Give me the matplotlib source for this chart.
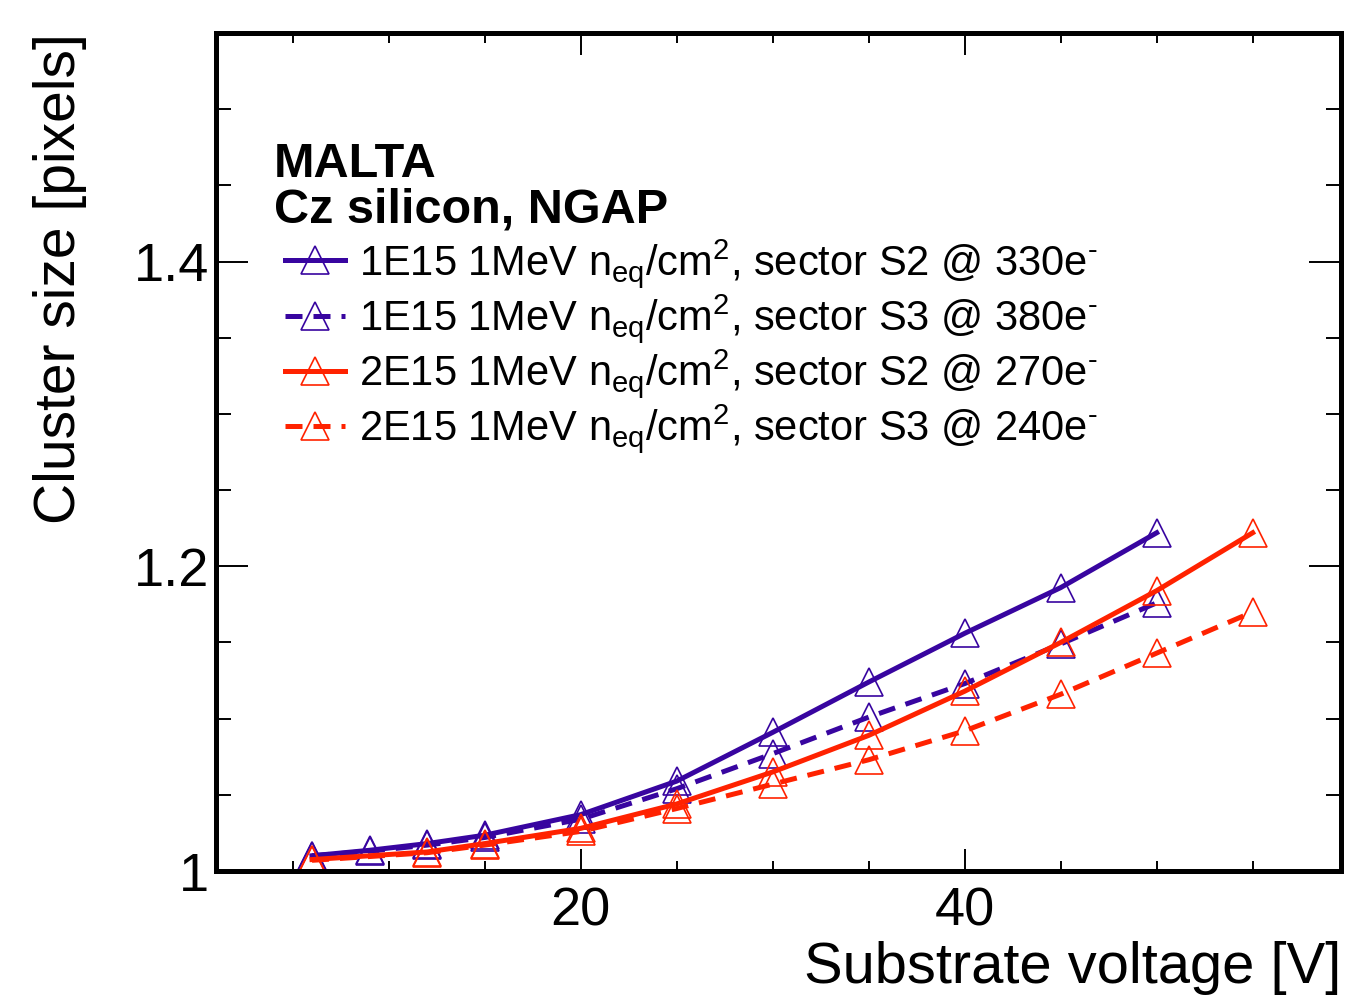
import matplotlib
matplotlib.use("Agg")
import matplotlib.pyplot as plt
from matplotlib.ticker import MultipleLocator, FuncFormatter

plt.rcParams['font.family'] = ['Liberation Sans', 'DejaVu Sans']
plt.rcParams['mathtext.fontset'] = 'custom'
plt.rcParams['mathtext.rm'] = 'Liberation Sans'
plt.rcParams['mathtext.it'] = 'Liberation Sans'
plt.rcParams['mathtext.bf'] = 'Liberation Sans:bold'

# data
volt_1e15 = [6, 9, 12, 15, 20, 25, 30, 35, 40, 45, 50]
cs_1e15_s2 = [1.010, 1.0136, 1.018, 1.0235, 1.037, 1.059, 1.091, 1.124, 1.156, 1.186, 1.222]
cs_1e15_s3 = [1.010, 1.013, 1.017, 1.022, 1.034, 1.054, 1.077, 1.101, 1.123, 1.149, 1.176]

volt_2e15 = [6, 12, 15, 20, 25, 30, 35, 40, 45, 50, 55]
cs_2e15_s2 = [1.0075, 1.0125, 1.018, 1.028, 1.044, 1.065, 1.089, 1.118, 1.150, 1.184, 1.222]
cs_2e15_s3 = [1.007, 1.012, 1.017, 1.026, 1.041, 1.057, 1.073, 1.092, 1.116, 1.143, 1.170]

labels = [r'1E15 1MeV n$_{\rm eq}$/cm$^{2}$, sector S2 @ 330e$^{\text{-}}$',
          r'1E15 1MeV n$_{\rm eq}$/cm$^{2}$, sector S3 @ 380e$^{\text{-}}$',
          r'2E15 1MeV n$_{\rm eq}$/cm$^{2}$, sector S2 @ 270e$^{\text{-}}$',
          r'2E15 1MeV n$_{\rm eq}$/cm$^{2}$, sector S3 @ 240e$^{\text{-}}$']

blue = '#3805a0'
red = '#ff2200'
dash = (0, (3.4, 2.2))

fig = plt.figure(figsize=(13.45, 9.96), dpi=100)
ax = fig.add_axes([216/1345, 1-871/996, (1341-216)/1345, (871-33)/996])

series = [(volt_1e15, cs_1e15_s2, blue, '-'),
          (volt_1e15, cs_1e15_s3, blue, dash),
          (volt_2e15, cs_2e15_s2, red, '-'),
          (volt_2e15, cs_2e15_s3, red, dash)]
handles = []
for (x, y, c, ls), lab in zip(series, labels):
    h, = ax.plot(x, y, color=c, ls=ls, lw=3.6, marker='^', ms=20, mfc='none',
                 mec=c, mew=1.2, dash_capstyle='butt', label=lab)
    handles.append(h)

ax.set_xlim(1, 59.6)
ax.set_ylim(1, 1.55)

for s in ax.spines.values():
    s.set_linewidth(3.6)

ax.xaxis.set_major_locator(MultipleLocator(20))
ax.xaxis.set_minor_locator(MultipleLocator(5))
ax.yaxis.set_major_locator(MultipleLocator(0.2))
ax.yaxis.set_minor_locator(MultipleLocator(0.05))
ax.yaxis.set_major_formatter(FuncFormatter(lambda v, p: '%g' % v))
ax.tick_params(which='both', direction='in', top=True, right=True, width=1.4, labelsize=39)
ax.tick_params(axis='x', which='major', length=16, pad=11)
ax.tick_params(axis='x', which='minor', length=7)
ax.tick_params(axis='y', which='major', length=23, pad=5)
ax.tick_params(axis='y', which='minor', length=10.5)

ax.set_xlabel('Substrate voltage [V]', fontsize=41.7, ha='right')
ax.xaxis.set_label_coords(1.0, -0.083)
ax.set_ylabel('Cluster size [pixels]', fontsize=41, ha='right')
ax.yaxis.set_label_coords(-0.115, 1.0)

ax.text(0.0516, 0.828, 'MALTA', transform=ax.transAxes, fontsize=35,
        fontweight='bold', va='baseline')
ax.text(0.0516, 0.774, 'Cz silicon, NGAP', transform=ax.transAxes, fontsize=35,
        fontweight='bold', va='baseline')

ax.legend(handles=handles, loc='upper left', bbox_to_anchor=(0.0613, 0.7566),
          frameon=False, fontsize=30, handlelength=1.45, handletextpad=0.32,
          labelspacing=0.05, borderpad=0, borderaxespad=0)

fig.savefig('out.png', dpi=100)
